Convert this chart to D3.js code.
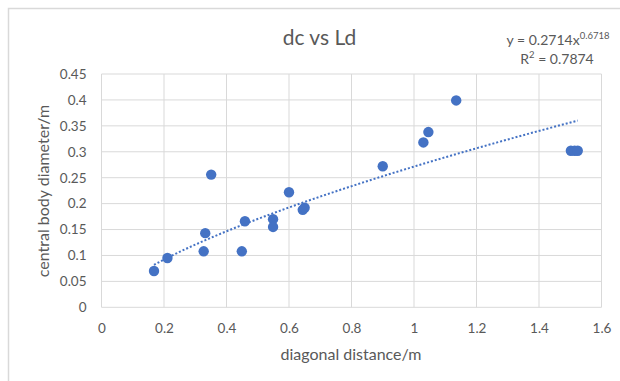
<!DOCTYPE html>
<html>
<head>
<meta charset="utf-8">
<script src="https://cdn.jsdelivr.net/npm/d3@7"></script>
<style>
  body { margin: 0; background: #fff; }
  text { font-family: Lato, "Open Sans", sans-serif; fill: #595959; }
</style>
</head>
<body>
<svg id="chart" width="620" height="381"></svg>
<script>
// diagonal distance (m) and central body diameter (m)
var Ld = [0.168, 0.211, 0.351, 0.332, 0.327, 0.449, 0.459, 0.549, 0.549, 0.600, 0.644, 0.650, 0.900, 1.030, 1.046, 1.135, 1.502, 1.514, 1.524];
var dc = [0.070, 0.095, 0.256, 0.143, 0.108, 0.108, 0.166, 0.170, 0.155, 0.222, 0.188, 0.192, 0.272, 0.318, 0.338, 0.399, 0.302, 0.302, 0.302];
var xTicks = [0, 0.2, 0.4, 0.6, 0.8, 1, 1.2, 1.4, 1.6];
var yTicks = [0, 0.05, 0.1, 0.15, 0.2, 0.25, 0.3, 0.35, 0.4, 0.45];
var coefA = 0.2714, coefB = 0.6718, r2 = 0.7874;

var svg = d3.select("#chart");
var plotL = 101.5, plotR = 601.5, plotT = 74, plotB = 307.3;

// chart frame (only left and top edges are in the picture)
svg.append("path").attr("d", "M8.5,381V8.5H620")
  .attr("fill", "none").attr("stroke", "#d9d9d9").attr("stroke-width", 1.5);

var x = d3.scaleLinear().domain([0, 1.6]).range([plotL, plotR]);
var y = d3.scaleLinear().domain([0, 0.45]).range([plotB, plotT]);

// grid
svg.append("g").selectAll("line").data(xTicks).join("line")
  .attr("x1", d => x(d)).attr("x2", d => x(d)).attr("y1", plotT).attr("y2", plotB)
  .attr("stroke", "#d9d9d9").attr("stroke-width", 1);
svg.append("g").selectAll("line").data(yTicks).join("line")
  .attr("x1", plotL).attr("x2", plotR).attr("y1", d => y(d)).attr("y2", d => y(d))
  .attr("stroke", "#d9d9d9").attr("stroke-width", 1);

// tick labels
var xAxis = svg.append("g").attr("transform", `translate(0,${plotB})`)
  .call(d3.axisBottom(x).tickValues(xTicks).tickSize(0).tickPadding(16).tickFormat(d3.format("")));
var yAxis = svg.append("g").attr("transform", `translate(${plotL},0)`)
  .call(d3.axisLeft(y).tickValues(yTicks).tickSize(0).tickPadding(15).tickFormat(d3.format("")));
[xAxis, yAxis].forEach(function (g) {
  g.select(".domain").remove();
  g.selectAll("text").style("font-size", "13.5px").attr("fill", "#595959")
    .style("font-family", "Lato, 'Open Sans', sans-serif");
});

// trendline (power fit)
var xs = d3.range(0, 101).map(i => d3.min(Ld) + (d3.max(Ld) - d3.min(Ld)) * i / 100);
svg.append("path").datum(xs)
  .attr("d", d3.line().x(d => x(d)).y(d => y(coefA * Math.pow(d, coefB))))
  .attr("fill", "none").attr("stroke", "#4472c4").attr("stroke-width", 2)
  .attr("stroke-dasharray", "2,2");

// points
svg.append("g").selectAll("circle").data(Ld).join("circle")
  .attr("cx", d => x(d)).attr("cy", (d, i) => y(dc[i])).attr("r", 5.2)
  .attr("fill", "#4472c4");

// titles
svg.append("text").attr("x", 319.5).attr("y", 45).attr("text-anchor", "middle")
  .style("font-size", "21px").text("dc vs Ld");
svg.append("text").attr("x", 351).attr("y", 360).attr("text-anchor", "middle")
  .style("font-size", "16px").text("diagonal distance/m");
svg.append("text").attr("transform", "translate(49,191) rotate(-90)").attr("text-anchor", "middle")
  .style("font-size", "16px").text("central body diameter/m");

// equation
var eq = svg.append("text").attr("x", 558).attr("y", 45).attr("text-anchor", "middle")
  .style("font-size", "14px");
eq.append("tspan").text("y = " + coefA + "x");
eq.append("tspan").attr("dy", -6).style("font-size", "9.5px").text(coefB);
var r = svg.append("text").attr("x", 557).attr("y", 64).attr("text-anchor", "middle")
  .style("font-size", "14px");
r.append("tspan").text("R");
r.append("tspan").attr("dy", -6).style("font-size", "9.5px").text("2");
r.append("tspan").attr("dy", 6).text(" = " + r2);
</script>
</body>
</html>
